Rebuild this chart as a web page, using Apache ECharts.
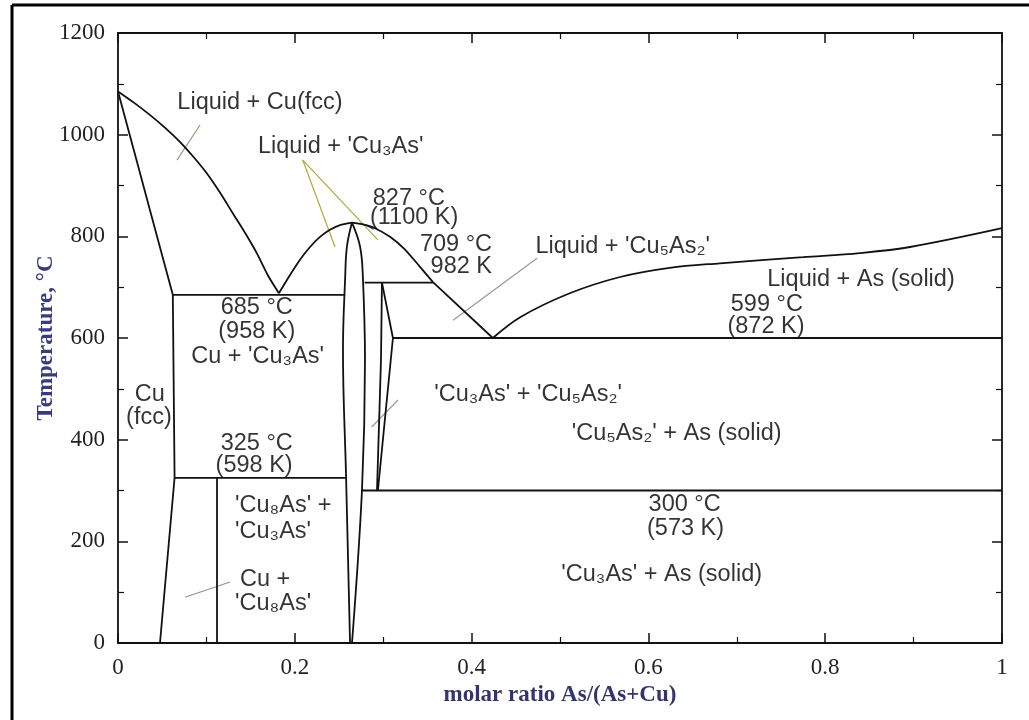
<!DOCTYPE html>
<html>
<head>
<meta charset="utf-8">
<script src="https://cdn.jsdelivr.net/npm/echarts@6/dist/echarts.min.js"></script>
<style>
html,body{margin:0;padding:0;background:#fff;}
#chart{width:1029px;height:720px;}
</style>
</head>
<body>
<div id="chart"></div>
<script>
// ---- phase boundaries: [molar ratio As/(As+Cu), temperature °C] ----
const cuLiquidus   = [[0,1085],[0.018,1063],[0.036,1039],[0.053,1014],[0.070,986],[0.085,957],[0.100,925],[0.115,887],[0.130,845],[0.144,806],[0.157,767],[0.170,722],[0.182,688]];
const cuSolidus    = [[0,1085],[0.033,872],[0.062,685]];
const cuSolvus     = [[0.062,685],[0.064,325],[0.0475,0]];
const eutectic685  = [[0.062,685],[0.257,685]];
const cu3AsLiqLeft = [[0.182,688],[0.1946,724],[0.2059,754],[0.2172,779],[0.2285,799],[0.2398,813],[0.2511,822],[0.2647,827]];
const cu3AsLiqRight= [[0.2647,827],[0.2760,824],[0.2907,816],[0.3077,799],[0.3247,774],[0.3416,740],[0.3563,710]];
const cu5As2Liq    = [[0.3563,710],[0.424,600]];
const cu3AsLeft    = [[0.2647,827],[0.259,780],[0.257,720],[0.2545,576],[0.258,327],[0.2625,0]];
const cu3AsRight   = [[0.2647,827],[0.2738,780],[0.277,720],[0.2794,557],[0.276,301],[0.2647,0]];
const peritectic709= [[0.279,709],[0.3563,709]];
const cu5As2Left   = [[0.2986,709],[0.2975,557],[0.293,300]];
const cu5As2Right  = [[0.2986,709],[0.311,600],[0.294,300]];
const eutectic599  = [[0.311,600],[1,600]];
const asLiquidus   = [[0.424,600],[0.455,641],[0.511,688],[0.568,720],[0.624,738],[0.681,747],[0.775,759],[0.839,767],[0.896,779],[1,816]];
const line300      = [[0.275,300],[1,300]];
const line325      = [[0.064,325],[0.258,325]];
const cu8AsLine    = [[0.112,325],[0.112,0]];

// ---- leader lines ----
const leaderFcc     = [[0.0928,1019],[0.0667,950]];
const leaderCu3AsA  = [[0.209,950],[0.2455,779]];
const leaderCu3AsB  = [[0.209,950],[0.294,793]];
const leaderCu5As2  = [[0.474,757],[0.379,635]];
const leaderMix     = [[0.3167,478],[0.287,425]];
const leaderCu8As   = [[0.1267,120],[0.0758,90]];
const leaderPeak    = [[0.2805,822],[0.289,814]];

// ---- text labels: [x, T, text] ----
const labelsCenter = [
  [0.1606,1064,"Liquid + Cu(fcc)"],
  [0.252,976,"Liquid + 'Cu₃As'"],
  [0.329,875,"827 °C"],
  [0.335,838,"(1100 K)"],
  [0.157,659,"685 °C"],
  [0.157,612,"(958 K)"],
  [0.158,563,"Cu + 'Cu₃As'"],
  [0.571,779,"Liquid + 'Cu₅As₂'"],
  [0.8405,716,"Liquid + As (solid)"],
  [0.734,665,"599 °C"],
  [0.733,622,"(872 K)"],
  [0.036,488,"Cu"],
  [0.035,443,"(fcc)"],
  [0.157,393,"325 °C"],
  [0.154,350,"(598 K)"],
  [0.464,488,"'Cu₃As' + 'Cu₅As₂'"],
  [0.632,413,"'Cu₅As₂' + As (solid)"],
  [0.641,273,"300 °C"],
  [0.642,226,"(573 K)"],
  [0.615,134,"'Cu₃As' + As (solid)"]
];
const labelsRight = [
  [0.4231,783,"709 °C"],
  [0.4231,740,"982 K"]
];
const labelsLeft = [
  [0.1324,271,"'Cu₈As' +"],
  [0.1324,220,"'Cu₃As'"],
  [0.138,124,"Cu +"],
  [0.1324,77,"'Cu₈As'"]
];

const xRange = [0, 1], xStep = 0.2;
const yRange = [0, 1200], yStep = 200;
const xTitle = "molar ratio As/(As+Cu)";
const yTitle = "Temperature, °C";

const chart = echarts.init(document.getElementById('chart'), null, {renderer:'canvas'});

function boundary(data, smooth) {
  return {type:'line', data:data, showSymbol:false, symbol:'none', smooth: smooth||false,
    lineStyle:{color:'#111', width:1.8}, silent:true, z:3, animation:false};
}
function leader(data, color) {
  return {type:'line', data:data, showSymbol:false, symbol:'none',
    lineStyle:{color:color, width:1.2}, silent:true, z:2, animation:false};
}
function labelSeries(list, align) {
  return {type:'scatter', symbolSize:1, itemStyle:{color:'rgba(0,0,0,0)'}, silent:true, z:5, animation:false,
    data: list.map(d => ({value:[d[0], d[1]], name:d[2]})),
    label:{show:true, position:'inside', formatter:'{b}', align:align, verticalAlign:'middle',
      fontFamily:'Liberation Sans, Arial, sans-serif', fontSize:23.5, color:'#000'}};
}

const axisFont = {fontFamily:'Liberation Serif, Times New Roman, serif', fontSize:23, color:'#222'};
const tickCommon = {inside:true, length:10, lineStyle:{color:'#111', width:1.5}};
const minorCommon = {show:true, splitNumber:2, length:6, lineStyle:{color:'#111', width:1.2}};
const lineCommon = {show:true, onZero:false, lineStyle:{color:'#111', width:1.8}};

const option = {
  backgroundColor:'#fff',
  animation:false,
  grid:{left:118, right:27, top:33, bottom:77, containLabel:false},
  xAxis:[
    {type:'value', min:xRange[0], max:xRange[1], interval:xStep, position:'bottom',
     axisLine:lineCommon, axisTick:tickCommon, minorTick:minorCommon, splitLine:{show:false},
     axisLabel:Object.assign({margin:13, formatter:v => String(v)}, axisFont),
     name:xTitle, nameLocation:'middle', nameGap:41, nameMoveOverlap:false,
     nameTextStyle:{fontFamily:'Liberation Serif, Times New Roman, serif', fontSize:23, fontWeight:'bold', color:'#34346e'}},
    {type:'value', min:xRange[0], max:xRange[1], interval:xStep, position:'top',
     axisLine:lineCommon, axisTick:tickCommon, minorTick:minorCommon, splitLine:{show:false},
     axisLabel:{show:false}}
  ],
  yAxis:[
    {type:'value', min:yRange[0], max:yRange[1], interval:yStep, position:'left',
     axisLine:lineCommon, axisTick:tickCommon, minorTick:minorCommon, splitLine:{show:false},
     axisLabel:Object.assign({margin:13, formatter:v => String(v)}, axisFont),
     name:yTitle, nameLocation:'middle', nameGap:60, nameRotate:90, nameMoveOverlap:false,
     nameTextStyle:{fontFamily:'Liberation Serif, Times New Roman, serif', fontSize:23, fontWeight:'bold', color:'#3a3a80'}},
    {type:'value', min:yRange[0], max:yRange[1], interval:yStep, position:'right',
     axisLine:lineCommon, axisTick:tickCommon, minorTick:minorCommon, splitLine:{show:false},
     axisLabel:{show:false}}
  ],
  graphic:[
    {type:'line', shape:{x1:12, y1:5, x2:1029, y2:5}, style:{stroke:'#000', lineWidth:3}, silent:true},
    {type:'line', shape:{x1:12, y1:5, x2:12, y2:720}, style:{stroke:'#000', lineWidth:3}, silent:true}
  ],
  series:[
    boundary(cuLiquidus, 0.2),
    boundary(cuSolidus, 0.3),
    boundary(cuSolvus),
    boundary(eutectic685),
    boundary(cu3AsLiqLeft, 0.2),
    boundary(cu3AsLiqRight, 0.2),
    boundary(cu5As2Liq),
    boundary(cu3AsLeft, 0.4),
    boundary(cu3AsRight, 0.4),
    boundary(peritectic709),
    boundary(cu5As2Left),
    boundary(cu5As2Right),
    boundary(eutectic599),
    boundary(asLiquidus, 0.35),
    boundary(line300),
    boundary(line325),
    boundary(cu8AsLine),
    leader(leaderFcc, '#9a9a7a'),
    leader(leaderCu3AsA, '#a8ac3c'),
    leader(leaderCu3AsB, '#a8ac3c'),
    leader(leaderCu5As2, '#9a9a9a'),
    leader(leaderMix, '#9a9a9a'),
    leader(leaderCu8As, '#8a9a80'),
    leader(leaderPeak, '#3a3aa0'),
    labelSeries(labelsCenter, 'center'),
    labelSeries(labelsRight, 'right'),
    labelSeries(labelsLeft, 'left')
  ]
};
chart.setOption(option);
</script>
</body>
</html>
